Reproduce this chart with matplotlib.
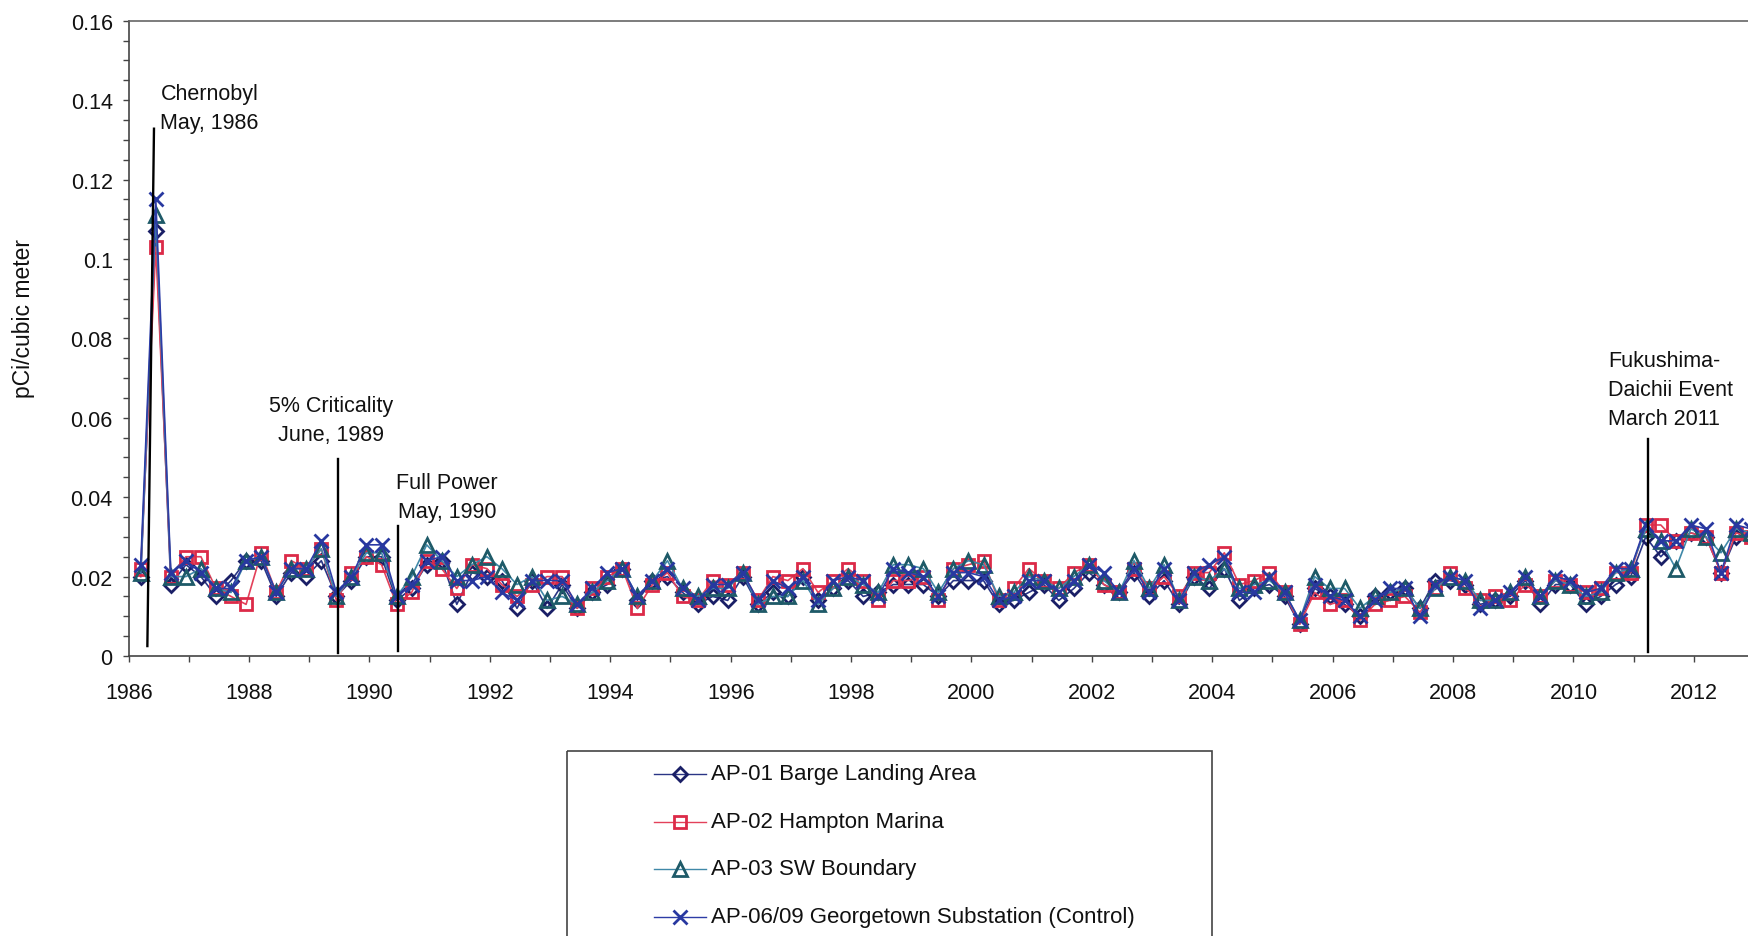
import matplotlib
matplotlib.use("Agg")
import matplotlib.pyplot as plt
from matplotlib.patches import Rectangle
from matplotlib.lines import Line2D
from matplotlib.ticker import FuncFormatter, MultipleLocator, FixedLocator
import numpy as np

plt.rcParams["font.family"] = ["Liberation Sans", "DejaVu Sans"]

# Quarterly air particulate samples, 1986 Q1 .. 2012 Q4 (pCi / cubic meter)
ap01 = [0.020, 0.107, 0.018, 0.023,  0.020, 0.015, 0.019, 0.024,  0.024, 0.015, 0.021, 0.020,
        0.024, 0.015, 0.019, 0.025,  0.025, 0.014, 0.017, 0.023,  0.024, 0.013, 0.021, 0.020,
        0.019, 0.012, 0.019, 0.012,  0.018, 0.012, 0.016, 0.018,  0.022, 0.014, 0.019, 0.020,
        0.016, 0.013, 0.015, 0.014,  0.020, 0.013, 0.016, 0.015,  0.020, 0.014, 0.017, 0.019,
        0.015, 0.016, 0.018, 0.018,  0.018, 0.015, 0.019, 0.019,  0.019, 0.013, 0.014, 0.016,
        0.018, 0.014, 0.017, 0.021,  0.018, 0.016, 0.021, 0.015,  0.019, 0.013, 0.020, 0.017,
        0.022, 0.014, 0.017, 0.018,  0.015, 0.008, 0.017, 0.015,  0.013, 0.010, 0.015, 0.016,
        0.017, 0.012, 0.019, 0.019,  0.018, 0.013, 0.014, 0.015,  0.019, 0.013, 0.018, 0.018,
        0.013, 0.015, 0.018, 0.020,  0.030, 0.025, 0.029, 0.031,  0.030, 0.021, 0.030, 0.030]
ap02 = [0.022, 0.103, 0.020, 0.025,  0.025, 0.017, 0.015, 0.013,  0.026, 0.016, 0.024, 0.022,
        0.027, 0.014, 0.021, 0.025,  0.023, 0.013, 0.016, 0.024,  0.022, 0.017, 0.023, 0.022,
        0.018, 0.015, 0.018, 0.020,  0.020, 0.012, 0.017, 0.020,  0.022, 0.012, 0.018, 0.021,
        0.015, 0.014, 0.019, 0.018,  0.021, 0.014, 0.020, 0.019,  0.022, 0.016, 0.019, 0.022,
        0.019, 0.014, 0.019, 0.019,  0.020, 0.014, 0.022, 0.023,  0.024, 0.014, 0.017, 0.022,
        0.019, 0.017, 0.021, 0.023,  0.018, 0.016, 0.022, 0.017,  0.020, 0.015, 0.021, 0.021,
        0.026, 0.018, 0.019, 0.021,  0.016, 0.008, 0.016, 0.013,  0.014, 0.009, 0.013, 0.014,
        0.015, 0.011, 0.017, 0.021,  0.017, 0.014, 0.015, 0.014,  0.018, 0.015, 0.019, 0.018,
        0.016, 0.017, 0.021, 0.021,  0.033, 0.033, 0.029, 0.031,  0.030, 0.021, 0.031, 0.030]
ap03 = [0.021, 0.111, 0.020, 0.020,  0.022, 0.017, 0.016, 0.024,  0.025, 0.016, 0.022, 0.022,
        0.027, 0.015, 0.020, 0.026,  0.026, 0.015, 0.020, 0.028,  0.024, 0.020, 0.023, 0.025,
        0.022, 0.018, 0.020, 0.014,  0.015, 0.013, 0.016, 0.019,  0.022, 0.015, 0.019, 0.024,
        0.017, 0.015, 0.017, 0.017,  0.021, 0.013, 0.015, 0.015,  0.019, 0.013, 0.017, 0.020,
        0.018, 0.016, 0.023, 0.023,  0.022, 0.016, 0.022, 0.024,  0.023, 0.015, 0.016, 0.020,
        0.019, 0.017, 0.020, 0.023,  0.019, 0.016, 0.024, 0.017,  0.023, 0.014, 0.020, 0.019,
        0.022, 0.017, 0.018, 0.019,  0.016, 0.009, 0.020, 0.017,  0.017, 0.012, 0.015, 0.016,
        0.017, 0.012, 0.017, 0.020,  0.019, 0.014, 0.014, 0.016,  0.020, 0.015, 0.019, 0.018,
        0.015, 0.016, 0.021, 0.022,  0.032, 0.029, 0.022, 0.032,  0.030, 0.026, 0.032, 0.031]
ap06 = [0.023, 0.115, 0.021, 0.024,  0.021, 0.017, 0.017, 0.024,  0.025, 0.016, 0.022, 0.022,
        0.029, 0.016, 0.020, 0.028,  0.028, 0.015, 0.018, 0.024,  0.025, 0.019, 0.019, 0.020,
        0.016, 0.014, 0.019, 0.019,  0.019, 0.013, 0.017, 0.021,  0.022, 0.015, 0.019, 0.022,
        0.017, 0.014, 0.018, 0.018,  0.021, 0.014, 0.019, 0.017,  0.020, 0.014, 0.019, 0.020,
        0.019, 0.015, 0.022, 0.021,  0.020, 0.015, 0.021, 0.021,  0.020, 0.014, 0.015, 0.019,
        0.019, 0.016, 0.019, 0.023,  0.021, 0.016, 0.022, 0.016,  0.022, 0.014, 0.021, 0.023,
        0.025, 0.016, 0.016, 0.020,  0.016, 0.009, 0.018, 0.015,  0.014, 0.010, 0.014, 0.017,
        0.017, 0.010, 0.018, 0.020,  0.019, 0.012, 0.014, 0.016,  0.020, 0.015, 0.020, 0.019,
        0.016, 0.017, 0.022, 0.022,  0.033, 0.029, 0.029, 0.033,  0.032, 0.021, 0.033, 0.032]

# sample dates: one per quarter, collected near the end of each quarter
sample_t = 1986.2 + 0.25 * np.arange(len(ap01))

labels = ["AP-01 Barge Landing Area", "AP-02 Hampton Marina",
          "AP-03 SW Boundary", "AP-06/09 Georgetown Substation (Control)"]

year_labels = list(range(1986, 2013, 2))

# event markers: (label, line x ends, line y ends, text x, text y, alignment)
events = [
    ("Chernobyl\nMay, 1986", (1986.31, 1986.42), (0.0025, 0.1328), 1987.34, 0.1381, "center"),
    ("5% Criticality\nJune, 1989", (1989.48, 1989.48), (0.0008, 0.0495), 1989.36, 0.0595, "center"),
    ("Full Power\nMay, 1990", (1990.47, 1990.47), (0.0012, 0.0327), 1991.29, 0.0400, "center"),
    ("Fukushima-\nDaichii Event\nMarch 2011", (2011.24, 2011.24), (0.001, 0.0547), 2010.58, 0.0670, "left"),
]

styles = [
    dict(marker="D", ms=7.2, color="#2a3585", mec="#1a1f66"),
    dict(marker="s", ms=8.6, color="#e3415a", mec="#dc2a48"),
    dict(marker="^", ms=10, color="#3f88a8", mec="#1e5a68"),
    dict(marker="x", ms=10, color="#2d3ca6", mec="#2838a0"),
]

W, H = 1748, 937
fig = plt.figure(figsize=(W / 100, H / 100), dpi=100)
fig.patch.set_facecolor("white")

# plot area: 1986 sits at x=129px, 60.2 px per year, runs past the right edge
ax = fig.add_axes([128.7 / W, 1 - 657 / H, 28 * 60.2 / W, (657 - 21.7) / H])
ax.set_xlim(1986, 2014)
ax.set_ylim(0, 0.16)

for vals, st in zip([ap01, ap02, ap03, ap06], styles):
    ax.plot(sample_t, vals, linestyle="-", linewidth=1.2, color=st["color"],
            marker=st["marker"], markersize=st["ms"], markerfacecolor="none",
            markeredgecolor=st["mec"], markeredgewidth=2.0, clip_on=False)

for text, xs, ys, tx, ty, ha in events:
    ax.plot(xs, ys, color="black", linewidth=1.7, zorder=5)
    ax.text(tx, ty, text, ha=ha, va="center", fontsize=15.5, color="#111111",
            linespacing=1.5, multialignment=ha)

ax.xaxis.set_major_locator(FixedLocator(year_labels))
ax.xaxis.set_minor_locator(MultipleLocator(1))
ax.yaxis.set_major_locator(MultipleLocator(0.02))
ax.yaxis.set_minor_locator(MultipleLocator(0.005))
ax.xaxis.set_major_formatter(FuncFormatter(lambda v, _: f"{int(round(v))}"))
ax.yaxis.set_major_formatter(FuncFormatter(lambda v, _: f"{round(v, 3):g}"))

ax.tick_params(axis="both", which="both", direction="out", length=4.5, width=1,
               color="#444444", labelsize=15.5, labelcolor="#111111")
ax.tick_params(axis="x", which="major", pad=14)
ax.tick_params(axis="y", which="major", pad=7)

for side in ["left", "bottom"]:
    ax.spines[side].set_color("#444444")
    ax.spines[side].set_linewidth(1.2)
ax.spines["top"].set_color("#666666")
ax.spines["top"].set_linewidth(1.2)
ax.spines["right"].set_visible(False)

fig.text(24 / W, 1 - 319 / H, "pCi/cubic meter", rotation=90, ha="center",
         va="center", fontsize=16.5, color="#111111")

# legend box, hanging off the bottom edge
lg = fig.add_axes([0, 0, 1, 1])
lg.set_xlim(0, W)
lg.set_ylim(H, 0)
lg.axis("off")
lg.add_patch(Rectangle((567, 752), 645, 260, fill=False, edgecolor="#444444",
                       linewidth=1.2, clip_on=False))
for i, (lab, st) in enumerate(zip(labels, styles)):
    yy = 775 + i * 47.5
    lg.add_line(Line2D([654, 706], [yy, yy], color=st["color"], linewidth=1.0))
    lg.add_line(Line2D([680], [yy], marker=st["marker"], markersize=st["ms"],
                       markerfacecolor="none", markeredgecolor=st["mec"],
                       markeredgewidth=2.0, linestyle="none"))
    lg.text(711, yy, lab, ha="left", va="center", fontsize=16, color="#111111")

fig.savefig("out.png", dpi=100, facecolor="white")
